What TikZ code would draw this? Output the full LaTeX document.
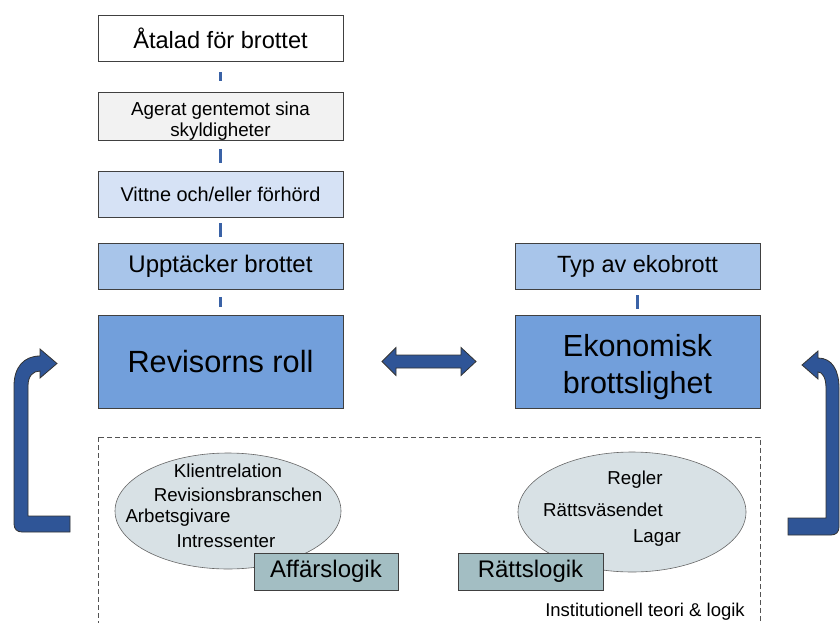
\documentclass[tikz,border=0pt]{standalone}
\usepackage{fontspec}
\setmainfont{Liberation Sans}
\usetikzlibrary{shapes.geometric,calc}

\definecolor{arrowblue}{HTML}{2F5597}
\definecolor{linkblue}{HTML}{3A62A6}
\definecolor{boxline}{HTML}{404040}
\definecolor{greyfill}{HTML}{F2F2F2}
\definecolor{paleblue}{HTML}{D6E2F5}
\definecolor{midblue}{HTML}{A8C5EA}
\definecolor{mainblue}{HTML}{729FDB}
\definecolor{ellfill}{HTML}{D8E1E5}
\definecolor{logicfill}{HTML}{A3BEC3}

\newcommand{\fs}[2]{\fontsize{#1}{#2}\selectfont}

\tikzset{
  box/.style={draw=boxline, line width=0.8pt, minimum width=245pt, minimum height=46pt, inner sep=0pt, align=center},
  bigbox/.style={box, fill=mainblue, minimum height=93pt},
  link/.style={draw=linkblue, line width=3pt, shorten <=#1, shorten >=#1},
  cloud/.style={ellipse, draw=boxline!80, line width=0.6pt, fill=ellfill},
  logic/.style={draw=boxline, line width=0.8pt, fill=logicfill, minimum height=37pt, inner sep=0pt, font=\fs{24}{28}},
  word/.style={inner sep=0pt, font=\fs{18.7}{22}},
  blockarrow/.style={fill=arrowblue, draw=black!80, line width=0.8pt}
}

\begin{document}
\begin{tikzpicture}[x=1pt, y=-1pt]
\clip (0,0) rectangle (840,623);

% left column
\node[box, fill=white, font=\fs{23.6}{28}] (atal) at (220.5,38) {Åtalad för brottet};
\node[box, fill=greyfill, font=\fs{18.8}{21}] (ager) at (220.5,116) {\rule{0pt}{23pt}Agerat gentemot sina\\skyldigheter};
\node[box, fill=paleblue, font=\fs{19.9}{24}] (vitt) at (220.5,194.5) {Vittne och/eller förhörd};
\node[box, fill=midblue, font=\fs{24}{28}] (uppt) at (220.5,266) {Upptäcker brottet};
\node[bigbox, font=\fs{30.7}{36}] (rev) at (220.5,361.5) {Revisorns roll};

% right column
\node[box, fill=midblue, font=\fs{23.5}{28}] (typ) at (637.5,266) {Typ av ekobrott};
\node[bigbox, font=\fs{30.5}{37}] (eko) at (637.5,361.5) {\rule{0pt}{33pt}Ekonomisk\\brottslighet};

\draw[link=11] (atal) -- (ager);
\draw[link=8.5] (ager) -- (vitt);
\draw[link=5.5] (vitt) -- (uppt);
\draw[link=7.5] (uppt) -- (rev);
\draw[link=6] (typ) -- (eko);

\coordinate (between) at ($(rev.east)!0.5!(eko.west)$);
\draw[blockarrow, shift={(between)}] (-47,0) -- (-33,-14) -- (-33,-6.5) -- (32,-6.5) -- (32,-14) -- (47,0)
  -- (32,14) -- (32,6.5) -- (-33,6.5) -- (-33,14) -- cycle;

% institutional frame
\draw[dash pattern=on 5pt off 3pt, draw=boxline!90, line width=0.6pt] (98,437) rectangle (760,650);

\node[cloud, minimum width=226pt, minimum height=116pt] (affcloud) at (228,511) {};
\node[word] (klient) at (228,471) {Klientrelation};
\node[word] (bransch) at (238,495) {Revisionsbranschen};
\node[word] (arbets) at (178,518) {Arbetsgivare};
\node[word] (intr) at (226,541) {Intressenter};
\node[logic, minimum width=144pt] (aff) at (326,571.5) {Affärslogik};

\node[cloud, minimum width=228pt, minimum height=120pt] (ratcloud) at (632,512) {};
\node[word] (regler) at (635,480) {Regler};
\node[word] (vasende) at (603,510) {Rättsväsendet};
\node[word] (lagar) at (657,538) {Lagar};
\node[logic, minimum width=145pt] (ratt) at (530.5,571.5) {Rättslogik};

\node[inner sep=0pt, font=\fs{18.5}{22}] (inst) at (645,612) {Institutionell teori \& logik};

% bent arrows at the sides
\draw[blockarrow] (70,532) -- (22,532) .. controls (17,532) and (14,529) .. (14,524)
  -- (14,386) .. controls (14,367) and (24,356) .. (40,356) -- (40,349) -- (57,363.5)
  -- (40,378) -- (40,371) .. controls (33,371) and (28,376) .. (28,386) -- (28,516) -- (70,516) -- cycle;
\draw[blockarrow] (788,535) -- (831,535) .. controls (836,535) and (839,532) .. (839,527)
  -- (839,388) .. controls (839,370) and (832,358) .. (818,358) -- (818,351) -- (802,365)
  -- (818,379) -- (818,372) .. controls (822,372) and (826,377) .. (826,388) -- (826,518) -- (788,518) -- cycle;
\end{tikzpicture}
\end{document}
